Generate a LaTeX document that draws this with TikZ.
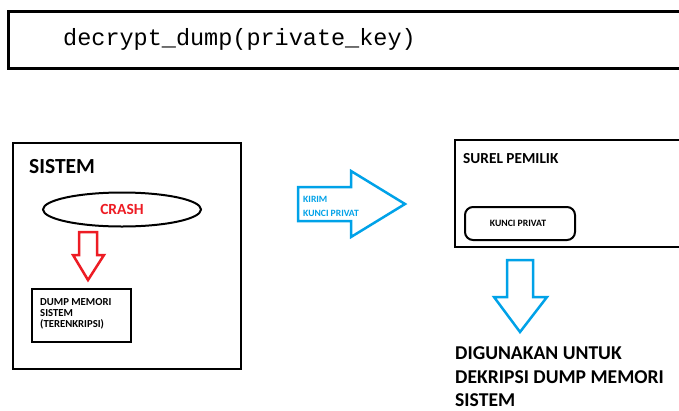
\documentclass[tikz,border=0pt]{standalone}
\usepackage{fontspec}
\newfontfamily\calib{Carlito}
\newfontfamily\codefont{Liberation Mono}
\definecolor{paintred}{HTML}{ED1C24}
\definecolor{paintblue}{HTML}{00A2E8}
\begin{document}
\begin{tikzpicture}[x=1pt,y=-1pt,
  lbl/.style={inner sep=0pt, anchor=base west, font=\calib\bfseries},
  frame/.style={draw=black, line width=2pt},
  blockarrow/.style={line width=2.5pt, line join=miter, fill=white}]
\useasboundingbox (0,0) rectangle (679,410);

% code line
\draw[line width=3pt] (8,11) rectangle (700,68);
\node[inner sep=0pt, anchor=base west, font=\codefont\fontsize{23.5}{28}\selectfont] (code) at (63,45) {decrypt\_dump(private\_key)};

% system box
\draw[frame] (13,143) rectangle (241,369);
\node[lbl, font=\calib\bfseries\fontsize{21.5}{25}\selectfont] (sistem) at (29,173) {SISTEM};
\draw[frame] (122,209.5) ellipse [x radius=79, y radius=17];
\node[inner sep=0pt, anchor=base, text=paintred, font=\calib\bfseries\fontsize{15.5}{18}\selectfont] (crash) at (122,214.5) {CRASH};
\draw[blockarrow, draw=paintred] (79,232) -- (97,232) -- (97,255) -- (104,255) -- (88,280) -- (73,255) -- (79,255) -- cycle;
\draw[frame] (32,289) rectangle (131,342);
\node[lbl, font=\calib\bfseries\fontsize{10.7}{11}\selectfont] (dump1) at (40,305.5) {DUMP MEMORI};
\node[lbl, font=\calib\bfseries\fontsize{10.7}{11}\selectfont] (dump2) at (40,316.5) {SISTEM};
\node[lbl, font=\calib\bfseries\fontsize{10.7}{11}\selectfont] (dump3) at (40,327.5) {(TERENKRIPSI)};

% send arrow
\draw[blockarrow, draw=paintblue] (298,187) -- (351,187) -- (351,171) -- (405,204) -- (351,237) -- (351,221) -- (298,221) -- cycle;
\node[lbl, text=paintblue, font=\calib\bfseries\fontsize{9.6}{12}\selectfont] (kirim1) at (303,202) {KIRIM};
\node[lbl, text=paintblue, font=\calib\bfseries\fontsize{9.6}{12}\selectfont] (kirim2) at (303,216) {KUNCI PRIVAT};

% owner mail box (runs past the right edge)
\draw[frame] (455,140) rectangle (690,247);
\node[lbl, font=\calib\bfseries\fontsize{15.3}{18}\selectfont] (surel) at (463,163) {SUREL PEMILIK};
\draw[frame, rounded corners=8pt] (465,207) rectangle (575,240);
\node[inner sep=0pt, anchor=base, font=\calib\bfseries\fontsize{9.7}{12}\selectfont] (kunci) at (518,226.5) {KUNCI PRIVAT};

% use arrow
\draw[blockarrow, draw=paintblue] (507,260) -- (533,260) -- (533,297) -- (547,297) -- (520,332) -- (494,297) -- (507,297) -- cycle;
\node[lbl, font=\calib\bfseries\fontsize{19.6}{24}\selectfont] (guna1) at (455,359.5) {DIGUNAKAN UNTUK};
\node[lbl, font=\calib\bfseries\fontsize{19.6}{24}\selectfont] (guna2) at (455,383.5) {DEKRIPSI DUMP MEMORI};
\node[lbl, font=\calib\bfseries\fontsize{19.6}{24}\selectfont] (guna3) at (455,406.5) {SISTEM};
\end{tikzpicture}
\end{document}
